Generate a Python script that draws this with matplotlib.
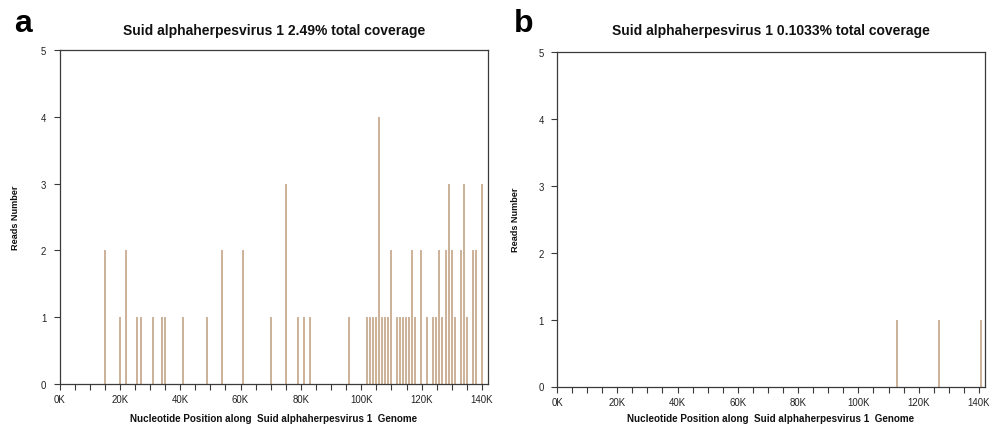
import matplotlib
matplotlib.use("Agg")
import matplotlib.pyplot as plt
from matplotlib.ticker import MultipleLocator, FuncFormatter

plt.rcParams['font.family'] = ['Liberation Sans', 'DejaVu Sans']

# ---- data (positions in nucleotides, values = reads) ----
pos_a = [15000, 19900, 22000, 25800, 26900, 30900, 34000, 35000, 40900, 48900,
         53900, 60900, 70000, 75000, 78900, 80900, 82900, 95800, 101800, 102800,
         103800, 104900, 105900, 106900, 107900, 108900, 109800, 111900, 112900,
         113900, 114900, 115900, 116900, 117900, 119900, 121900, 123900, 124800,
         125800, 126800, 128000, 129000, 130000, 130900, 132900, 133900, 134900,
         136900, 137900, 139900]
reads_a = [2, 1, 2, 1, 1, 1, 1, 1, 1, 1,
           2, 2, 1, 3, 1, 1, 1, 1, 1, 1,
           1, 1, 4, 1, 1, 1, 2, 1, 1,
           1, 1, 1, 2, 1, 2, 1, 1, 1,
           2, 1, 2, 3, 2, 1, 2, 3, 1,
           2, 2, 3]

pos_b = [112800, 126800, 140700]
reads_b = [1, 1, 1]

titles = ["Suid alphaherpesvirus 1 2.49% total coverage",
          "Suid alphaherpesvirus 1 0.1033% total coverage"]
panel_letters = ["a", "b"]
xlabel = "Nucleotide Position along  Suid alphaherpesvirus 1  Genome"
ylabel = "Reads Number"
genome_len = 142000

bar_color = '#bf9d7b'
axis_color = '#3a3a3a'

W, H = 998, 427
fig = plt.figure(figsize=(W / 100, H / 100), dpi=100)

def frac_box(l, r, top, bottom):
    return [l / W, 1 - bottom / H, (r - l) / W, (bottom - top) / H]

boxes = [frac_box(59.5, 488, 51, 385), frac_box(557, 985, 53, 387.5)]
letter_x = [14, 514]
ylabel_x = [16, 516]

for i, (pos, reads) in enumerate([(pos_a, reads_a), (pos_b, reads_b)]):
    ax = fig.add_axes(boxes[i])
    ax.vlines(pos, 0, reads, colors=bar_color, linewidth=1.1)
    ax.set_xlim(0, genome_len)
    ax.set_ylim(0, 5)
    for sp in ax.spines.values():
        sp.set_color(axis_color)
        sp.set_linewidth(0.9)
    ax.xaxis.set_major_locator(MultipleLocator(20000))
    ax.xaxis.set_minor_locator(MultipleLocator(5000))
    ax.xaxis.set_major_formatter(FuncFormatter(lambda v, p: f"{int(round(v / 1000))}K"))
    ax.yaxis.set_major_locator(MultipleLocator(1))
    ax.tick_params(axis='x', which='both', direction='out', length=4.5, width=0.8,
                   color=axis_color, labelsize=6.9, labelcolor='#222222', pad=3)
    ax.tick_params(axis='y', which='major', direction='out', length=4.5, width=0.8,
                   color=axis_color, labelsize=6.9, labelcolor='#222222', pad=5)
    cx = (boxes[i][0] + boxes[i][2] / 2)
    fig.text(cx, 1 - 31 / H, titles[i], ha='center', va='center',
             fontsize=10, fontweight='bold', color='#111111')
    fig.text(cx, 1 - 419 / H, xlabel, ha='center', va='center',
             fontsize=7.1, fontweight='bold', color='#111111')
    ycen = boxes[i][1] + boxes[i][3] / 2
    fig.text(ylabel_x[i] / W, ycen, ylabel, ha='center', va='center',
             rotation=90, fontsize=6.6, fontweight='bold', color='#111111')
    fig.text(letter_x[i] / W, 1 - 32 / H, panel_letters[i], ha='left', va='baseline',
             fontsize=23, fontweight='bold', color='#000000')

fig.savefig("out.png", dpi=100)
